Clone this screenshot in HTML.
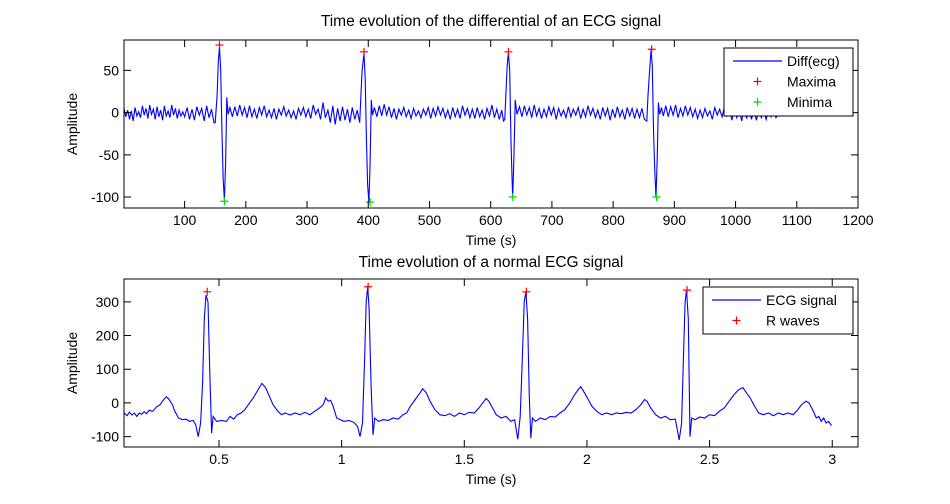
<!DOCTYPE html>
<html><head><meta charset="utf-8"><style>
body{margin:0;background:#fff;}
svg{display:block;font-family:"Liberation Sans",Arial,sans-serif;}
</style></head><body>
<svg id="c" width="950" height="504"></svg>
<script>
// ---- Top panel data: [sample index, differential amplitude] ----
const diffPairs = [
[1,5],[4,-5],[7,3],[10,-8],[13,2],[16,-10],[19,6],[22,-4],[25,1],[28,-6],[31,8],[34,-3],[37,5],[40,-7],[43,9],[46,-2],[49,4],[52,-8],[55,7],[58,-5],[61,3],[64,-9],[67,8],[70,-4],[73,2],[76,-6],[79,9],[82,-3],[85,5],[88,-7],[91,3],[94,-4],[97,1],[100,-5],[104,6],[108,-8],[112,4],[116,-9],[120,7],[124,-3],[128,5],[132,-10],[136,8],[140,-6],[144,4],[148,-12],[150,-12],
[153,20],[155,60],[157,78],[159,50],[161,-20],[163,-80],[165,-103],[167,-60],[169,18],[171,-2],
[174,6],[178,-5],[182,7],[186,-4],[190,9],[194,-3],[198,6],[202,-6],[206,8],[210,-5],[214,4],[218,-7],[222,6],[226,-3],[230,8],[234,-5],[238,3],[242,-6],[246,5],[250,-8],[254,4],[258,-3],[262,7],[266,-4],[270,3],[274,-6],[278,2],[282,-8],[286,5],[290,-3],[294,6],[298,-5],[302,4],[306,-7],[310,9],[314,-2],[318,4],[322,-8],[326,12],[330,-6],[334,3],[338,-12],[342,8],[346,-14],[350,5],[354,-10],[358,7],[362,-9],[366,4],[370,-12],[374,6],[378,-8],[382,3],[386,-12],
[388,20],[390,50],[393,70],[395,40],[397,-30],[399,-85],[401,-106],[403,-60],[405,15],[407,-3],
[410,6],[414,-5],[418,8],[422,-4],[426,10],[430,-3],[434,7],[438,-6],[442,5],[446,-8],[450,4],[454,-3],[458,6],[462,-5],[466,3],[470,-7],[474,5],[478,-4],[482,2],[486,-6],[490,4],[494,-3],[498,6],[502,-7],[506,5],[510,-4],[514,7],[518,-3],[522,5],[526,-6],[530,3],[534,-8],[538,6],[542,-5],[546,4],[550,-7],[554,8],[558,-3],[562,5],[566,-6],[570,4],[574,-7],[578,6],[582,-5],[586,3],[590,-8],[594,5],[598,-4],[602,9],[606,-6],[610,4],[614,-8],[618,3],[621,-10],[623,-8],
[625,25],[627,55],[629,72],[631,50],[633,-30],[635,-80],[636,-100],[638,-50],[640,15],[643,-2],
[647,7],[651,-5],[655,8],[659,-3],[663,6],[667,-6],[671,9],[675,-4],[679,5],[683,-7],[687,4],[691,-5],[695,7],[699,-3],[703,6],[707,-8],[711,5],[715,-4],[719,3],[723,-6],[727,7],[731,-5],[735,4],[739,-3],[743,6],[747,-7],[751,4],[755,-5],[759,8],[763,-3],[767,5],[771,-6],[775,3],[779,-8],[783,6],[787,-4],[791,5],[795,-9],[799,4],[803,-6],[807,7],[811,-5],[815,3],[819,-8],[823,6],[827,-4],[831,5],[835,-7],[839,4],[843,-6],[847,5],[851,-8],[855,-10],
[857,20],[860,55],[862,75],[864,55],[866,-20],[868,-70],[870,-100],[872,-55],[874,12],[876,-2],
[879,6],[882,-4],[886,8],[890,-5],[894,7],[898,-3],[902,9],[906,-6],[910,5],[914,-4],[918,8],[922,-3],[926,6],[930,-5],[934,4],[938,-7],[942,3],[946,-6],[950,5],[954,-4],[958,2],[962,-8],[966,6],[970,-3],[974,4],[978,-5],[982,7],[986,-4],[990,3],[994,-9],[998,5],[1002,-6],[1006,4],[1010,-10],[1014,6],[1018,-7],[1022,3],[1026,-8],[1030,5],[1034,-9],[1038,4],[1042,-6],[1046,2],[1050,-8],[1054,3],[1058,-5],[1062,4],[1066,-6],[1069,-3]
];
const maxIdx = [157,393,629,863];
const maxVal = [80,72,72,75];
const minIdx = [165,403,636,871];
const minVal = [-105,-106,-100,-100];
const topXTicks = [100,200,300,400,500,600,700,800,900,1000,1100,1200];
const topYTicks = [50,0,-50,-100];

// ---- Bottom panel data: [time s, ECG amplitude] ----
const ecgPairs = [
[0.113,-30],[0.125,-38],[0.135,-28],[0.145,-36],[0.155,-30],[0.165,-40],[0.175,-30],[0.185,-34],[0.195,-26],[0.205,-32],[0.215,-22],[0.23,-25],[0.245,-12],[0.26,-5],[0.275,10],[0.285,18],[0.295,12],[0.31,-5],[0.32,-25],[0.335,-45],[0.35,-50],[0.365,-48],[0.38,-55],[0.395,-52],[0.405,-65],[0.415,-100],[0.425,-60],[0.433,60],[0.44,250],[0.447,320],[0.455,300],[0.462,100],[0.47,-90],[0.476,-40],[0.49,-55],[0.51,-52],[0.53,-55],[0.545,-40],[0.56,-48],[0.575,-35],[0.59,-30],[0.605,-20],[0.62,-5],[0.64,15],[0.66,40],[0.675,58],[0.69,45],[0.705,20],[0.72,-5],[0.74,-25],[0.755,-35],[0.77,-30],[0.79,-36],[0.81,-30],[0.83,-35],[0.85,-28],[0.87,-35],[0.89,-25],[0.91,-15],[0.925,-5],[0.935,15],[0.945,5],[0.955,8],[0.965,-10],[0.98,-45],[0.995,-50],[1.01,-55],[1.03,-52],[1.05,-58],[1.065,-70],[1.075,-100],[1.085,-60],[1.093,120],[1.1,300],[1.106,345],[1.112,280],[1.12,50],[1.128,-95],[1.135,-45],[1.15,-55],[1.17,-50],[1.19,-52],[1.21,-45],[1.23,-48],[1.25,-35],[1.265,-30],[1.28,-10],[1.3,10],[1.32,30],[1.33,42],[1.345,30],[1.36,5],[1.38,-20],[1.40,-35],[1.42,-38],[1.44,-32],[1.46,-40],[1.48,-30],[1.50,-35],[1.52,-28],[1.54,-30],[1.56,-15],[1.575,0],[1.589,13],[1.60,5],[1.615,-15],[1.63,-35],[1.65,-45],[1.67,-40],[1.69,-55],[1.705,-50],[1.718,-108],[1.728,-40],[1.736,120],[1.744,300],[1.751,330],[1.758,250],[1.765,20],[1.771,-105],[1.778,-45],[1.79,-55],[1.81,-45],[1.83,-50],[1.85,-40],[1.87,-42],[1.89,-30],[1.91,-20],[1.93,0],[1.95,25],[1.965,40],[1.975,48],[1.99,30],[2.005,10],[2.02,-10],[2.04,-25],[2.06,-35],[2.08,-30],[2.10,-35],[2.12,-30],[2.14,-32],[2.16,-28],[2.18,-30],[2.20,-20],[2.22,-5],[2.235,10],[2.245,5],[2.26,-15],[2.28,-35],[2.30,-45],[2.32,-40],[2.34,-50],[2.36,-48],[2.376,-110],[2.386,-60],[2.393,120],[2.400,300],[2.406,335],[2.413,250],[2.42,-100],[2.427,-45],[2.44,-50],[2.46,-42],[2.48,-45],[2.50,-35],[2.52,-38],[2.54,-25],[2.56,-15],[2.58,5],[2.60,25],[2.62,40],[2.636,45],[2.65,30],[2.665,15],[2.68,-5],[2.70,-30],[2.72,-35],[2.74,-30],[2.76,-38],[2.78,-30],[2.80,-35],[2.82,-30],[2.84,-35],[2.86,-20],[2.875,-5],[2.893,5],[2.905,0],[2.92,-20],[2.935,-45],[2.945,-40],[2.955,-55],[2.965,-45],[2.975,-60],[2.985,-55],[2.997,-67]
];
const rT = [0.452,1.108,1.753,2.408];
const rV = [330,345,330,335];
const botXTicks = [0.5,1,1.5,2,2.5,3];
const botYTicks = [300,200,100,0,-100];

const svg = document.getElementById('c');
const NS = 'http://www.w3.org/2000/svg';
function mk(tag, attrs, parent){const e=document.createElementNS(NS,tag);for(const k in attrs)e.setAttribute(k,attrs[k]);(parent||svg).appendChild(e);return e;}

function panel(cfg){
  const g = mk('g',{});
  
  
  const sx = v => cfg.L + (v - cfg.x0)/(cfg.x1 - cfg.x0)*(cfg.R - cfg.L);
  const sy = v => cfg.B - (v - cfg.y0)/(cfg.y1 - cfg.y0)*(cfg.B - cfg.T);
  const pts = cfg.pairs.map(p=>sx(p[0]).toFixed(1)+','+sy(p[1]).toFixed(1)).join(' ');
  const line = mk('polyline',{points:pts,fill:'none',stroke:'#0000ff','stroke-width':1.1},g);
  
  
  cfg.markers.forEach(m=>{
    m.xs.forEach((x,i)=>{
      const cx=sx(x), cy=sy(m.ys[i]);
      const p = mk('path',{d:`M${cx-4},${cy}H${cx+4}M${cx},${cy-4}V${cy+4}`,stroke:m.color,'stroke-width':1.2},g);
      
      
    });
  });
  const box = mk('rect',{x:cfg.L,y:cfg.T,width:cfg.R-cfg.L,height:cfg.B-cfg.T,fill:'none',stroke:'#000','stroke-width':1},g);
  
  
  cfg.xt.forEach(v=>{
    const x=sx(v);
    mk('path',{d:`M${x},${cfg.B}V${cfg.B-7}M${x},${cfg.T}V${cfg.T+7}`,stroke:'#000','stroke-width':1},g);
    const t=mk('text',{x:x,y:cfg.B+17,'font-size':14,'text-anchor':'middle'},g);
    t.textContent=v;
    
    
  });
  cfg.yt.forEach(v=>{
    const y=sy(v);
    mk('path',{d:`M${cfg.L},${y}H${cfg.L+7}M${cfg.R},${y}H${cfg.R-7}`,stroke:'#000','stroke-width':1},g);
    const t=mk('text',{x:cfg.L-5,y:y+5,'font-size':14,'text-anchor':'end'},g);
    t.textContent=v;
    
    
  });
  const tt=mk('text',{x:(cfg.L+cfg.R)/2,y:cfg.T-cfg.tOff,'font-size':15.5,'text-anchor':'middle'},g);
  tt.textContent=cfg.title;
  
  
  const xl=mk('text',{x:(cfg.L+cfg.R)/2,y:cfg.B+37,'font-size':14,'text-anchor':'middle'},g);
  xl.textContent='Time (s)';
  
  
  const yc=(cfg.T+cfg.B)/2;
  const yl=mk('text',{x:77,y:yc,'font-size':14,'text-anchor':'middle',transform:`rotate(-90 77 ${yc})`},g);
  yl.textContent='Amplitude';
  
  
  const lg=cfg.legend;
  const lb=mk('rect',{x:lg.x,y:lg.y,width:lg.w,height:lg.h,fill:'#fff',stroke:'#000','stroke-width':1},g);
  
  
  lg.items.forEach((it,i)=>{
    const y=lg.y+13+i*20.5;
    const sx0=lg.x+9, sx1=lg.x+58, mid=(sx0+sx1)/2;
    if(it.type==='line') mk('path',{d:`M${sx0},${y}H${sx1}`,stroke:'#0000ff','stroke-width':1.2},g);
    else mk('path',{d:`M${mid-4},${y}H${mid+4}M${mid},${y-4}V${y+4}`,stroke:it.color,'stroke-width':1.2},g);
    const t=mk('text',{x:lg.x+63,y:y+5,'font-size':14},g);
    t.textContent=it.label;
    
    
  });
}

panel({name:'diff-panel',L:124,R:858,T:40,B:208,x0:1,x1:1200,y0:-113,y1:86,tOff:14,
  pairs:diffPairs,xt:topXTicks,yt:topYTicks,
  title:'Time evolution of the differential of an ECG signal',
  markers:[{xs:maxIdx,ys:maxVal,color:'#ff0000',name:'maxima-marker'},{xs:minIdx,ys:minVal,color:'#00dd00',name:'minima-marker'}],
  legend:{x:724,y:48,w:129,h:68,items:[{type:'line',label:'Diff(ecg)'},{type:'mark',color:'#ff0000',label:'Maxima'},{type:'mark',color:'#00dd00',label:'Minima'}]}});

panel({name:'ecg-panel',L:124,R:858,T:279,B:447,x0:0.1127,x1:3.105,y0:-131,y1:368,tOff:12,
  pairs:ecgPairs,xt:botXTicks,yt:botYTicks,
  title:'Time evolution of a normal ECG signal',
  markers:[{xs:rT,ys:rV,color:'#ff0000',name:'r-wave-marker'}],
  legend:{x:703,y:287,w:150,h:47,items:[{type:'line',label:'ECG signal'},{type:'mark',color:'#ff0000',label:'R waves'}]}});
</script>
</body></html>
